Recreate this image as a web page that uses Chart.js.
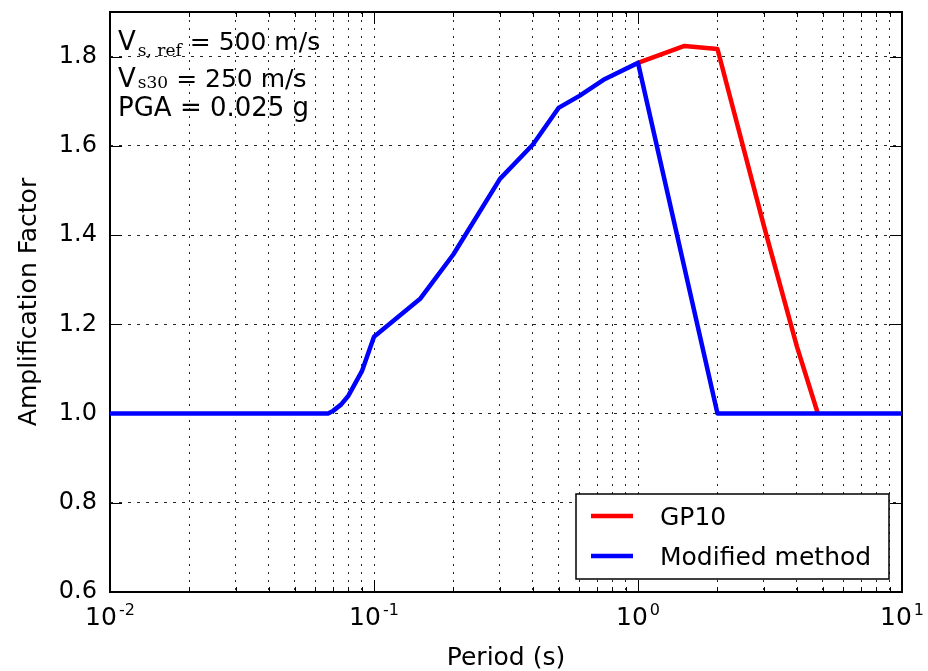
<!DOCTYPE html>
<html>
<head>
<meta charset="utf-8">
<script src="https://cdn.jsdelivr.net/npm/chart.js@4.4.1/dist/chart.umd.min.js"></script>
<style>
  html, body { margin: 0; padding: 0; background: #fff; }
  #wrap { width: 928px; height: 671px; }
</style>
</head>
<body>
<div id="wrap"><canvas id="chart" width="928" height="671"></canvas></div>
<script>
// Amplification factor vs period: GP10 against the modified method

const modPeriods = [0.01, 0.067, 0.07, 0.075, 0.08, 0.09, 0.1, 0.15, 0.2, 0.3, 0.4, 0.5, 0.6, 0.75, 1.0, 2.0, 10];
const modAmp     = [1.0, 1.0, 1.006, 1.02, 1.04, 1.095, 1.172, 1.258, 1.357, 1.526, 1.603, 1.685, 1.712, 1.75, 1.786, 1.0, 1.0];

const gp10Periods = [1.0, 1.5, 2.0, 3.0, 4.0, 4.8];
const gp10Amp     = [1.786, 1.824, 1.817, 1.42, 1.15, 1.0];

const xMajor = [0.01, 0.1, 1, 10];
const xMajorBase = "10";
const xMajorExp = ["-2", "-1", "0", "1"];
const xMinor = [2, 3, 4, 5, 6, 7, 8, 9];
const yTicks = [0.6, 0.8, 1.0, 1.2, 1.4, 1.6, 1.8];

const notes = [
    { main: "V", sub: "s, ref", rest: "= 500 m/s" },
    { main: "V", sub: "s30", rest: "= 250 m/s" },
    { main: "PGA = 0.025 g", sub: "", rest: "" },
];

const FONT = "DejaVu Sans";
Chart.defaults.font.family = FONT;
Chart.defaults.font.size = 24;
Chart.defaults.color = "#000";

const toXY = (xs, ys) => xs.map((x, i) => ({ x, y: ys[i] }));

// frame, inward ticks, power-of-ten labels, text block and legend
const framePlugin = {
    id: "frame",
    beforeDatasetsDraw(chart) {
        const { ctx, chartArea: a, scales } = chart;
        ctx.save();
        ctx.strokeStyle = "#000";
        ctx.lineWidth = 1;
        ctx.beginPath();
        for (const t of scales.x.ticks) {
            const px = Math.round(scales.x.getPixelForValue(t.value)) + 0.5;
            const len = t.major ? 12 : 5;
            ctx.moveTo(px, a.bottom); ctx.lineTo(px, a.bottom - len);
            ctx.moveTo(px, a.top); ctx.lineTo(px, a.top + len);
        }
        for (const t of scales.y.ticks) {
            const py = Math.round(scales.y.getPixelForValue(t.value)) + 0.5;
            ctx.moveTo(a.left, py); ctx.lineTo(a.left + 12, py);
            ctx.moveTo(a.right, py); ctx.lineTo(a.right - 12, py);
        }
        ctx.stroke();
        ctx.lineWidth = 2;
        ctx.strokeRect(a.left, a.top, a.right - a.left, a.bottom - a.top);
        ctx.restore();
    },
    afterDatasetsDraw(chart) {
        const { ctx, chartArea: a, scales } = chart;
        ctx.save();
        ctx.fillStyle = "#000";
        ctx.textBaseline = "alphabetic";

        // x labels as 10 with raised exponent
        xMajor.forEach((v, i) => {
            const px = scales.x.getPixelForValue(v);
            ctx.font = "25px " + FONT;
            const wb = ctx.measureText(xMajorBase).width;
            ctx.font = "16px " + FONT;
            const we = ctx.measureText(xMajorExp[i]).width;
            const x0 = px - (wb + we + 2) / 2;
            ctx.font = "25px " + FONT;
            ctx.fillText(xMajorBase, x0, a.bottom + 33);
            ctx.font = "16px " + FONT;
            ctx.fillText(xMajorExp[i], x0 + wb + 2, a.bottom + 23);
        });

        // text block, top left
        const baselines = [50, 87, 116];
        const subDrop = [6, 1, 0];
        notes.forEach((n, i) => {
            let x = a.left + 8;
            const y = baselines[i];
            ctx.font = "26px " + FONT;
            ctx.fillText(n.main, x, y);
            x += ctx.measureText(n.main).width + 2;
            if (n.sub) {
                ctx.font = "17px 'DejaVu Serif'";
                ctx.fillText(n.sub, x, y + subDrop[i]);
                x += ctx.measureText(n.sub).width + 8;
                ctx.font = "25px " + FONT;
                ctx.fillText(n.rest, x, y);
            }
        });

        // legend, lower right
        const w = 313, h = 85;
        const lx = a.right - 13 - w, ly = a.bottom - 13 - h;
        ctx.fillStyle = "#fff";
        ctx.fillRect(lx, ly, w, h);
        ctx.strokeStyle = "#000";
        ctx.lineWidth = 1.5;
        ctx.strokeRect(lx, ly, w, h);
        const order = [1, 0];
        order.forEach((di, row) => {
            const ds = chart.data.datasets[di];
            const cy = ly + 22 + row * 40;
            ctx.strokeStyle = ds.borderColor;
            ctx.lineWidth = 4.5;
            ctx.beginPath();
            ctx.moveTo(lx + 15, cy); ctx.lineTo(lx + 57, cy);
            ctx.stroke();
            ctx.fillStyle = "#000";
            ctx.font = "25px " + FONT;
            ctx.fillText(ds.label, lx + 84, cy + 9);
        });
        ctx.restore();
    },
};

const noPad = (scale) => {
    scale.paddingTop = 0; scale.paddingBottom = 0;
    scale.paddingLeft = 0; scale.paddingRight = 0;
};

new Chart(document.getElementById("chart"), {
    type: "line",
    data: {
        datasets: [
            {
                label: "Modified method",
                data: toXY(modPeriods, modAmp),
                borderColor: "#0000ff",
                borderWidth: 4.5,
                pointRadius: 0,
                tension: 0,
                borderJoinStyle: "round",
                order: 1,
            },
            {
                label: "GP10",
                data: toXY(gp10Periods, gp10Amp),
                borderColor: "#ff0000",
                borderWidth: 4.5,
                pointRadius: 0,
                tension: 0,
                borderJoinStyle: "round",
                order: 2,
            },
        ],
    },
    options: {
        responsive: false,
        animation: false,
        layout: { padding: { top: 12, right: 26, left: 0, bottom: 0 } },
        plugins: { legend: { display: false }, tooltip: { enabled: false } },
        scales: {
            x: {
                type: "logarithmic",
                min: 0.01,
                max: 10,
                afterBuildTicks: (scale) => {
                    const t = [];
                    xMajor.forEach((m, i) => {
                        t.push({ value: m, major: true });
                        if (i < xMajor.length - 1) xMinor.forEach(k => t.push({ value: m * k, major: false }));
                    });
                    scale.ticks = t;
                },
                afterFit: (scale) => { scale.height = 79; noPad(scale); },
                ticks: { display: false },
                grid: { color: "rgba(0,0,0,0.85)", lineWidth: 1, drawTicks: false, borderDash: [2, 6] },
                border: { display: false, dash: [2, 6] },
                title: { display: true, text: "Period (s)", font: { size: 25, lineHeight: 1 }, padding: { top: 1, bottom: 0 } },
            },
            y: {
                min: 0.6,
                max: 1.9,
                afterBuildTicks: (scale) => { scale.ticks = yTicks.map(v => ({ value: v })); },
                afterFit: (scale) => { scale.width = 110; noPad(scale); },
                ticks: {
                    padding: 13,
                    font: { size: 24 },
                    callback: (v) => Number(v).toFixed(1),
                },
                grid: { color: "rgba(0,0,0,0.85)", lineWidth: 1, drawTicks: false, borderDash: [3, 6] },
                border: { display: false, dash: [3, 6] },
                title: { display: true, text: "Amplification Factor", font: { size: 25, lineHeight: 1 }, padding: { top: 17, bottom: 0 } },
            },
        },
    },
    plugins: [framePlugin],
});
</script>
</body>
</html>
